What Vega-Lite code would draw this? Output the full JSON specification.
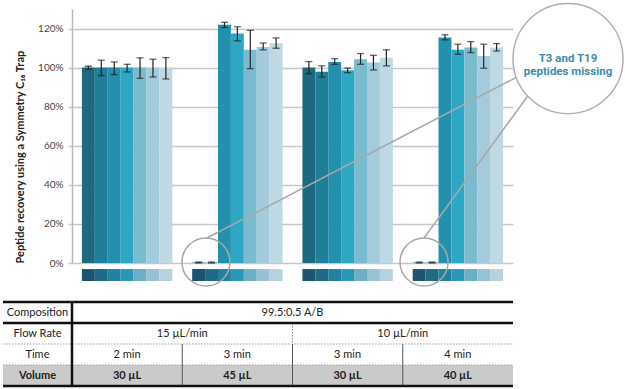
{
  "$schema": "https://vega.github.io/schema/vega-lite/v6.json",
  "background": "white",
  "padding": {"left": 1, "top": 0, "right": 0, "bottom": 0},
  "spacing": 10,
  "config": {"view": {"stroke": null}, "font": "Lato"},
  "datasets": {
    "recovery": [
      {"group": "A", "peptide": "P1", "value": 100, "lo": 99.3, "hi": 100.7},
      {"group": "A", "peptide": "P2", "value": 100, "lo": 95.9, "hi": 103.8},
      {"group": "A", "peptide": "P3", "value": 100, "lo": 96.4, "hi": 102.9},
      {"group": "A", "peptide": "P4", "value": 100, "lo": 97.8, "hi": 101.7},
      {"group": "A", "peptide": "P5", "value": 100, "lo": 94.5, "hi": 105},
      {"group": "A", "peptide": "P6", "value": 100, "lo": 95.2, "hi": 104.3},
      {"group": "A", "peptide": "P7", "value": 100, "lo": 94.2, "hi": 105.1},
      {"group": "B", "peptide": "P1", "value": 0.2, "lo": 0, "hi": 0.5},
      {"group": "B", "peptide": "P2", "value": 0.2, "lo": 0, "hi": 0.5},
      {"group": "B", "peptide": "P3", "value": 121.9, "lo": 120.5, "hi": 123.2},
      {"group": "B", "peptide": "P4", "value": 117.4, "lo": 113.7, "hi": 120.9},
      {"group": "B", "peptide": "P5", "value": 109.1, "lo": 99.5, "hi": 119.1},
      {"group": "B", "peptide": "P6", "value": 110.5, "lo": 109.1, "hi": 112.6},
      {"group": "B", "peptide": "P7", "value": 112.5, "lo": 109.9, "hi": 115.2},
      {"group": "C", "peptide": "P1", "value": 100, "lo": 96.9, "hi": 103.1},
      {"group": "C", "peptide": "P2", "value": 97.9, "lo": 95.2, "hi": 100.9},
      {"group": "C", "peptide": "P3", "value": 102.9, "lo": 101.7, "hi": 104.6},
      {"group": "C", "peptide": "P4", "value": 98.6, "lo": 97.4, "hi": 99.8},
      {"group": "C", "peptide": "P5", "value": 104.3, "lo": 101.7, "hi": 107.2},
      {"group": "C", "peptide": "P6", "value": 102.6, "lo": 98.8, "hi": 106.3},
      {"group": "C", "peptide": "P7", "value": 105.1, "lo": 100.9, "hi": 109.1},
      {"group": "D", "peptide": "P1", "value": 0.2, "lo": 0, "hi": 0.5},
      {"group": "D", "peptide": "P2", "value": 0.2, "lo": 0, "hi": 0.5},
      {"group": "D", "peptide": "P3", "value": 115.4, "lo": 114.2, "hi": 116.8},
      {"group": "D", "peptide": "P4", "value": 109.2, "lo": 106.8, "hi": 112},
      {"group": "D", "peptide": "P5", "value": 110.3, "lo": 107.7, "hi": 113.3},
      {"group": "D", "peptide": "P6", "value": 106, "lo": 99.7, "hi": 112},
      {"group": "D", "peptide": "P7", "value": 110.3, "lo": 108.5, "hi": 112.3}
    ],
    "callouts": [
      {"cx": 1.215, "cy": 0.5},
      {"cx": 3.193, "cy": 0.5}
    ],
    "bigcallout": [
      {"cx": 4.499, "cy": 104.6, "label": "T3 and T19\npeptides missing"}
    ],
    "leaders": [
      {"xa": 1.224, "ya": 12.8, "xb": 4.027, "yb": 94.9},
      {"xa": 3.193, "ya": 12.8, "xb": 4.136, "yb": 85.6}
    ],
    "cells": [
      {"r0": 0, "r1": 1, "c0": 0, "c1": 4, "text": "99.5:0.5 A/B"},
      {"r0": 1, "r1": 2, "c0": 0, "c1": 2, "text": "15 µL/min"},
      {"r0": 1, "r1": 2, "c0": 2, "c1": 4, "text": "10 µL/min"},
      {"r0": 2, "r1": 3, "c0": 0, "c1": 1, "text": "2 min"},
      {"r0": 2, "r1": 3, "c0": 1, "c1": 2, "text": "3 min"},
      {"r0": 2, "r1": 3, "c0": 2, "c1": 3, "text": "3 min"},
      {"r0": 2, "r1": 3, "c0": 3, "c1": 4, "text": "4 min"},
      {"r0": 3, "r1": 4, "c0": 0, "c1": 1, "text": "30 µL"},
      {"r0": 3, "r1": 4, "c0": 1, "c1": 2, "text": "45 µL"},
      {"r0": 3, "r1": 4, "c0": 2, "c1": 3, "text": "30 µL"},
      {"r0": 3, "r1": 4, "c0": 3, "c1": 4, "text": "40 µL"}
    ],
    "rows": [
      {"row": "Composition", "r0": 0, "r1": 1},
      {"row": "Flow Rate", "r0": 1, "r1": 2},
      {"row": "Time", "r0": 2, "r1": 3},
      {"row": "Volume", "r0": 3, "r1": 4}
    ]
  },
  "vconcat": [
    {
      "width": 441,
      "height": 254,
      "resolve": {"scale": {"x": "independent"}},
      "layer": [
        {
          "data": {"name": "recovery"},
          "encoding": {
            "x": {"field": "group", "type": "nominal", "sort": null, "axis": null,
                  "scale": {"paddingInner": 0.18, "paddingOuter": 0.09}},
            "xOffset": {"field": "peptide", "type": "nominal", "sort": null}
          },
          "layer": [
            {
              "mark": {"type": "bar"},
              "encoding": {
                "y": {"field": "value", "type": "quantitative",
                      "scale": {"domain": [0, 130], "nice": false},
                      "axis": {
                        "values": [0, 20, 40, 60, 80, 100, 120],
                        "labelExpr": "datum.value + '%'",
                        "grid": true, "gridColor": "#c8c8c8", "gridWidth": 1.5,
                        "ticks": true, "tickColor": "#c8c8c8", "tickSize": 4, "tickWidth": 1.5,
                        "domain": true, "domainColor": "#b8b8b8", "domainWidth": 1.5,
                        "labelFont": "Lato", "labelFontSize": 10, "labelColor": "#444", "labelPadding": 5,
                        "title": "Peptide recovery using a Symmetry C₁₈ Trap",
                        "titleFont": "Lato", "titleFontSize": 11, "titleFontWeight": "bold",
                        "titleColor": "#222", "titleAnchor": "start", "titlePadding": 12
                      }},
                "color": {"field": "peptide", "type": "nominal", "sort": null, "legend": null,
                          "scale": {"range": ["#1d6a80", "#1f7f98", "#2391ae", "#2ea7c5", "#7bbbd0", "#a3cbdb", "#bed8e4"]}}
              }
            },
            {
              "mark": {"type": "rule", "color": "#222", "strokeWidth": 1.2},
              "encoding": {
                "y": {"field": "lo", "type": "quantitative", "scale": {"domain": [0, 130], "nice": false}},
                "y2": {"field": "hi"}
              }
            },
            {
              "mark": {"type": "tick", "color": "#222", "thickness": 1.3, "size": 7, "orient": "horizontal"},
              "encoding": {
                "y": {"field": "lo", "type": "quantitative", "scale": {"domain": [0, 130], "nice": false}}
              }
            },
            {
              "mark": {"type": "tick", "color": "#222", "thickness": 1.3, "size": 7, "orient": "horizontal"},
              "encoding": {
                "y": {"field": "hi", "type": "quantitative", "scale": {"domain": [0, 130], "nice": false}}
              }
            },
            {
              "mark": {"type": "bar"},
              "encoding": {
                "y": {"datum": -3.1, "type": "quantitative", "scale": {"domain": [0, 130], "nice": false}},
                "y2": {"datum": -9.2},
                "fill": {"field": "peptide", "type": "nominal", "sort": null, "legend": null,
                         "scale": {"range": ["#1d5570", "#1f6a85", "#22819c", "#2998b7", "#6aafc6", "#98c2d3", "#b7d1de"]}}
              }
            }
          ]
        },
        {
          "layer": [
            {
              "data": {"name": "leaders"},
              "mark": {"type": "rule", "color": "#a8a8a8", "strokeWidth": 1.5},
              "encoding": {
                "x": {"field": "xa", "type": "quantitative", "axis": null,
                      "scale": {"domain": [0, 4], "nice": false, "zero": false}},
                "x2": {"field": "xb"},
                "y": {"field": "ya", "type": "quantitative", "scale": {"domain": [0, 130], "nice": false}},
                "y2": {"field": "yb"}
              }
            },
            {
              "data": {"name": "callouts"},
              "mark": {"type": "point", "shape": "circle", "filled": false, "size": 2304,
                       "stroke": "#a8a8a8", "strokeWidth": 1.5, "opacity": 1},
              "encoding": {
                "x": {"field": "cx", "type": "quantitative", "axis": null,
                      "scale": {"domain": [0, 4], "nice": false, "zero": false}},
                "y": {"field": "cy", "type": "quantitative", "scale": {"domain": [0, 130], "nice": false}}
              }
            },
            {
              "data": {"name": "bigcallout"},
              "mark": {"type": "point", "shape": "circle", "filled": true, "fill": "white", "size": 12100,
                       "stroke": "#b0b0b0", "strokeWidth": 1.5, "opacity": 1, "fillOpacity": 1},
              "encoding": {
                "x": {"field": "cx", "type": "quantitative", "axis": null,
                      "scale": {"domain": [0, 4], "nice": false, "zero": false}},
                "y": {"field": "cy", "type": "quantitative", "scale": {"domain": [0, 130], "nice": false}}
              }
            },
            {
              "data": {"name": "bigcallout"},
              "mark": {"type": "text", "font": "Roboto", "fontSize": 11.5, "fontWeight": "bold",
                       "color": "#3a8db2", "lineBreak": "\n", "lineHeight": 13,
                       "align": "center", "baseline": "middle"},
              "encoding": {
                "x": {"field": "cx", "type": "quantitative", "axis": null,
                      "scale": {"domain": [0, 4], "nice": false, "zero": false}},
                "y": {"field": "cy", "type": "quantitative", "scale": {"domain": [0, 130], "nice": false}},
                "text": {"field": "label"}
              }
            }
          ]
        }
      ]
    },
    {
      "width": 441,
      "height": 84,
      "layer": [
        {
          "data": {"values": [{}]},
          "mark": {"type": "rect", "fill": "#cacaca"},
          "encoding": {
            "x": {"datum": -0.626, "type": "quantitative", "axis": null, "scale": {"domain": [0, 4], "nice": false, "zero": false}},
            "x2": {"datum": 4},
            "y": {"datum": 3, "type": "quantitative", "axis": null, "scale": {"domain": [0, 4], "nice": false, "reverse": true}},
            "y2": {"datum": 4}
          }
        },
        {
          "data": {"name": "rows"},
          "transform": [{"filter": "datum.r0 >= 2"}],
          "mark": {"type": "rule", "color": "#9a9a9a", "strokeWidth": 1, "strokeDash": [1.5, 1.5]},
          "encoding": {
            "x": {"datum": -0.626, "type": "quantitative", "axis": null, "scale": {"domain": [0, 4], "nice": false, "zero": false}},
            "x2": {"datum": 4},
            "y": {"field": "r0", "type": "quantitative", "axis": null, "scale": {"domain": [0, 4], "nice": false, "reverse": true}}
          }
        },
        {
          "data": {"name": "cells"},
          "transform": [{"filter": "datum.c0 > 0 && datum.r0 >= 2"}],
          "mark": {"type": "rule", "color": "#555", "strokeWidth": 1},
          "encoding": {
            "x": {"field": "c0", "type": "quantitative", "axis": null, "scale": {"domain": [0, 4], "nice": false, "zero": false}},
            "y": {"field": "r0", "type": "quantitative", "axis": null, "scale": {"domain": [0, 4], "nice": false, "reverse": true}},
            "y2": {"field": "r1"}
          }
        },
        {
          "data": {"name": "cells"},
          "transform": [{"filter": "datum.c0 > 0 && datum.r0 == 1"}],
          "mark": {"type": "rule", "color": "#888", "strokeWidth": 1, "strokeDash": [1.5, 1.5]},
          "encoding": {
            "x": {"field": "c0", "type": "quantitative", "axis": null, "scale": {"domain": [0, 4], "nice": false, "zero": false}},
            "y": {"field": "r0", "type": "quantitative", "axis": null, "scale": {"domain": [0, 4], "nice": false, "reverse": true}},
            "y2": {"field": "r1"}
          }
        },
        {
          "data": {"name": "rows"},
          "transform": [{"filter": "datum.r0 <= 1"}],
          "mark": {"type": "rule", "color": "#111", "strokeWidth": 2.5},
          "encoding": {
            "x": {"datum": -0.626, "type": "quantitative", "axis": null, "scale": {"domain": [0, 4], "nice": false, "zero": false}},
            "x2": {"datum": 4},
            "y": {"field": "r0", "type": "quantitative", "axis": null, "scale": {"domain": [0, 4], "nice": false, "reverse": true}}
          }
        },
        {
          "data": {"values": [{}]},
          "mark": {"type": "rule", "color": "#111", "strokeWidth": 2.5},
          "encoding": {
            "x": {"datum": -0.626, "type": "quantitative", "axis": null, "scale": {"domain": [0, 4], "nice": false, "zero": false}},
            "x2": {"datum": 4},
            "y": {"datum": 4, "type": "quantitative", "axis": null, "scale": {"domain": [0, 4], "nice": false, "reverse": true}}
          }
        },
        {
          "data": {"values": [{}]},
          "mark": {"type": "rule", "color": "#111", "strokeWidth": 2.5},
          "encoding": {
            "x": {"datum": 0, "type": "quantitative", "axis": null, "scale": {"domain": [0, 4], "nice": false, "zero": false}},
            "y": {"datum": 0, "type": "quantitative", "axis": null, "scale": {"domain": [0, 4], "nice": false, "reverse": true}},
            "y2": {"datum": 4}
          }
        },
        {
          "data": {"name": "rows"},
          "transform": [{"calculate": "(datum.r0 + datum.r1) / 2", "as": "cy"}],
          "mark": {"type": "text", "font": "Lato", "fontSize": 11, "color": "#222", "align": "center", "baseline": "middle",
                   "fontWeight": {"expr": "datum.row == 'Volume' ? 'bold' : 'normal'"}},
          "encoding": {
            "x": {"datum": -0.313, "type": "quantitative", "axis": null, "scale": {"domain": [0, 4], "nice": false, "zero": false}},
            "y": {"field": "cy", "type": "quantitative", "axis": null, "scale": {"domain": [0, 4], "nice": false, "reverse": true}},
            "text": {"field": "row"}
          }
        },
        {
          "data": {"name": "cells"},
          "transform": [
            {"calculate": "(datum.c0 + datum.c1) / 2", "as": "cx"},
            {"calculate": "(datum.r0 + datum.r1) / 2", "as": "cy"}
          ],
          "mark": {"type": "text", "font": "Lato", "fontSize": 11, "color": "#222", "align": "center", "baseline": "middle",
                   "fontWeight": {"expr": "datum.r0 == 3 ? 'bold' : 'normal'"}},
          "encoding": {
            "x": {"field": "cx", "type": "quantitative", "axis": null, "scale": {"domain": [0, 4], "nice": false, "zero": false}},
            "y": {"field": "cy", "type": "quantitative", "axis": null, "scale": {"domain": [0, 4], "nice": false, "reverse": true}},
            "text": {"field": "text"}
          }
        }
      ]
    }
  ]
}
